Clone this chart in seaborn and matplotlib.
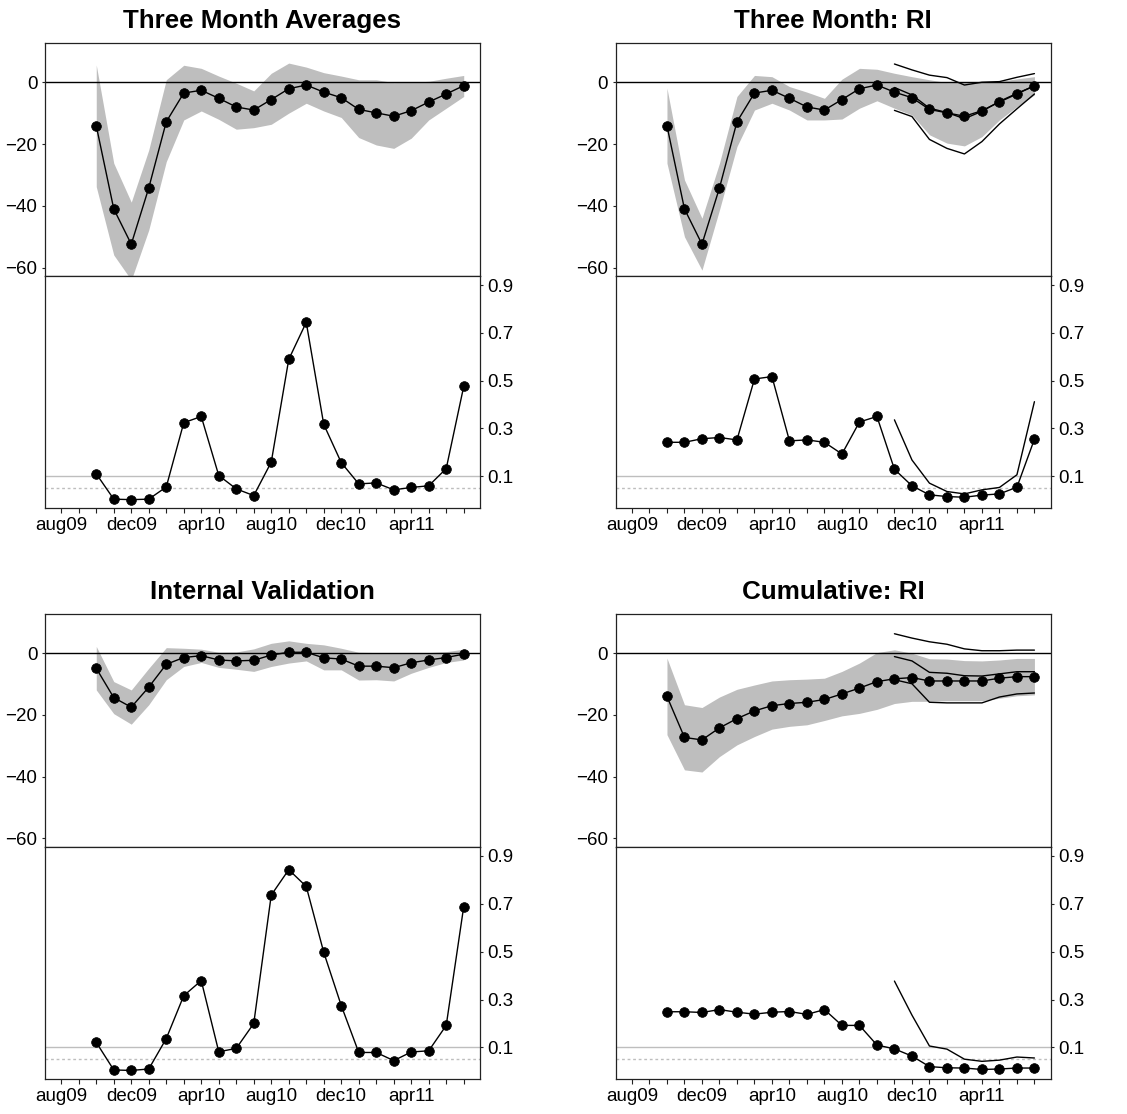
import matplotlib
matplotlib.use("Agg")
import matplotlib.pyplot as plt
import seaborn as sns
import pandas as pd

# months on the x axis, aug09 .. jul11
months = ['aug09', 'sep09', 'oct09', 'nov09', 'dec09', 'jan10', 'feb10', 'mar10',
          'apr10', 'may10', 'jun10', 'jul10', 'aug10', 'sep10', 'oct10', 'nov10',
          'dec10', 'jan11', 'feb11', 'mar11', 'apr11', 'may11', 'jun11', 'jul11']
tick_labels = ['aug09', 'dec09', 'apr10', 'aug10', 'dec10', 'apr11']
est_months = months[2:]     # oct09 .. jul11
ri_months = months[15:]     # nov10 .. jul11

# Three Month Averages
est1 = [-14.1, -41.0, -52.4, -34.2, -12.8, -3.5, -2.6, -5.2, -8.0, -9.0, -5.6, -2.1,
        -0.9, -3.2, -5.0, -8.8, -9.9, -11.0, -9.2, -6.4, -3.8, -1.1]
hi1 = [5.6, -26.2, -38.8, -21.9, 0.8, 5.5, 4.5, 2.0, -0.3, -2.8, 2.9, 6.2,
       4.9, 3.1, 2.0, 0.8, 0.8, -0.1, 0.0, 0.3, 1.3, 2.2]
lo1 = [-33.8, -55.9, -64.0, -47.8, -25.7, -12.2, -9.3, -12.0, -15.2, -14.7, -13.6, -10.0,
       -6.8, -9.3, -11.4, -17.9, -20.3, -21.4, -18.1, -12.2, -8.4, -4.6]
p1 = [0.11, 0.004, 0.002, 0.004, 0.055, 0.324, 0.35, 0.103, 0.047, 0.019, 0.159, 0.589,
      0.744, 0.317, 0.157, 0.068, 0.072, 0.043, 0.053, 0.06, 0.132, 0.476]

# Three Month: RI
est2 = [-14.1, -41.0, -52.4, -34.2, -12.8, -3.5, -2.6, -5.2, -8.0, -9.0, -5.6, -2.1,
        -0.9, -3.2, -5.0, -8.8, -9.9, -11.0, -9.2, -6.4, -3.8, -1.1]
hi2 = [-1.9, -31.6, -44.0, -26.2, -4.6, 2.2, 1.8, -1.4, -3.2, -5.2, 1.0, 4.5,
       4.2, 2.9, 1.8, 0.8, -0.1, -0.1, 0.2, 0.3, 1.1, 1.8]
lo2 = [-26.2, -50.0, -60.8, -41.3, -20.8, -9.0, -6.8, -9.0, -12.2, -12.2, -11.9, -8.4,
       -6.0, -8.4, -10.6, -17.0, -19.7, -20.6, -17.6, -12.2, -7.9, -4.1]
p2 = [0.242, 0.242, 0.257, 0.262, 0.252, 0.507, 0.517, 0.248, 0.252, 0.242, 0.193, 0.327,
      0.35, 0.129, 0.06, 0.022, 0.015, 0.012, 0.021, 0.026, 0.054, 0.255]
ri_hi2 = [5.9, 4.0, 2.3, 1.5, -0.9, 0.0, 0.2, 1.6, 2.8]
ri_mid2 = [-1.7, -4.1, -8.4, -9.8, -11.8, -9.4, -6.2, -3.6, -1.2]
ri_lo2 = [-9.1, -11.1, -18.5, -21.4, -23.2, -19.2, -13.5, -8.6, -3.8]
ri_p2 = [0.336, 0.168, 0.071, 0.036, 0.026, 0.043, 0.053, 0.106, 0.412]

# Internal Validation
est3 = [-4.9, -14.4, -17.5, -11.0, -3.6, -1.4, -0.8, -2.2, -2.5, -2.3, -0.6, 0.3,
        0.3, -1.5, -1.9, -4.2, -4.2, -4.7, -3.1, -2.2, -1.4, -0.3]
hi3 = [2.2, -9.2, -11.9, -4.9, 1.8, 1.6, 1.3, 0.3, 0.4, 1.4, 3.2, 4.0,
       3.2, 2.7, 1.6, 0.3, 0.2, 0.0, 0.1, 0.2, 0.5, 1.3]
lo3 = [-11.9, -19.6, -23.0, -16.7, -8.6, -4.3, -3.0, -4.6, -5.2, -5.9, -4.3, -3.2,
       -2.5, -5.4, -5.4, -8.7, -8.6, -9.0, -6.5, -4.6, -3.0, -2.2]
p3 = [0.121, 0.006, 0.004, 0.01, 0.137, 0.316, 0.379, 0.082, 0.096, 0.2, 0.736, 0.842,
      0.772, 0.497, 0.275, 0.079, 0.079, 0.045, 0.081, 0.086, 0.192, 0.688]

# Cumulative: RI
est4 = [-14.0, -27.3, -28.1, -24.2, -21.2, -18.7, -17.0, -16.3, -15.9, -15.0, -13.2, -11.3,
        -9.2, -8.3, -7.9, -9.0, -9.0, -9.0, -9.0, -8.1, -7.6, -7.6]
hi4 = [-1.6, -16.7, -17.6, -14.2, -11.7, -10.3, -9.0, -8.6, -8.4, -8.1, -5.9, -3.2,
       0.2, 1.1, 0.0, -1.8, -1.9, -2.4, -2.5, -2.2, -1.7, -1.7]
lo4 = [-26.4, -37.8, -38.5, -33.5, -29.7, -27.0, -24.6, -23.7, -23.2, -21.8, -20.3, -19.5,
       -18.2, -16.3, -15.6, -15.6, -15.4, -15.4, -15.4, -14.6, -13.8, -13.5]
p4 = [0.249, 0.249, 0.246, 0.258, 0.247, 0.239, 0.247, 0.25, 0.238, 0.258, 0.192, 0.192,
      0.11, 0.094, 0.064, 0.02, 0.015, 0.014, 0.008, 0.01, 0.014, 0.014]
ri_hi4 = [6.3, 4.9, 3.7, 2.9, 1.4, 0.8, 0.8, 1.0, 1.0]
ri_mid4 = [-1.1, -2.5, -6.2, -6.5, -7.3, -7.4, -6.7, -6.0, -6.0]
ri_lo4 = [-8.6, -9.9, -15.9, -16.1, -16.1, -16.1, -14.2, -13.2, -12.9]
ri_p4 = [0.377, 0.235, 0.106, 0.093, 0.051, 0.042, 0.047, 0.06, 0.056]

sns.set_theme(style="ticks")
plt.rcParams['font.family'] = ['Liberation Sans', 'DejaVu Sans']
plt.rcParams['axes.edgecolor'] = '#222222'
plt.rcParams['axes.linewidth'] = 0.9
plt.rcParams['text.color'] = 'black'
plt.rcParams['axes.titlecolor'] = 'black'
plt.rcParams['xtick.labelcolor'] = 'black'
plt.rcParams['ytick.labelcolor'] = 'black'

W, H = 1127, 1114
fig = plt.figure(figsize=(W / 100, H / 100), dpi=100)

mpos = {m: i for i, m in enumerate(months)}
BAND = '#bebebe'
FS = 13.5


def px_axes(x0, y0, x1, y1):
    return fig.add_axes([x0 / W, 1 - y1 / H, (x1 - x0) / W, (y1 - y0) / H])


def draw_panel(x0, x1, y_top, y_mid, y_bot, title, est, lo, hi, pval,
               ri_hi=None, ri_mid=None, ri_lo=None, ri_p=None):
    ax = px_axes(x0, y_top, x1, y_mid)
    axp = px_axes(x0, y_mid, x1, y_bot)

    df = pd.DataFrame({'x': [mpos[m] for m in est_months], 'est': est,
                       'lo': lo, 'hi': hi, 'p': pval})
    ax.fill_between(df['x'], df['lo'], df['hi'], color=BAND, lw=0, zorder=1)
    ax.axhline(0, color='black', lw=1.0, zorder=2)
    sns.lineplot(data=df, x='x', y='est', ax=ax, color='black', lw=1.0,
                 marker='o', markersize=7, markeredgecolor='black',
                 markeredgewidth=0.5, zorder=4)
    if ri_mid is not None:
        rdf = pd.DataFrame({'x': [mpos[m] for m in ri_months], 'hi': ri_hi,
                            'mid': ri_mid, 'lo': ri_lo, 'p': ri_p})
        for col in ['hi', 'mid', 'lo']:
            sns.lineplot(data=rdf, x='x', y=col, ax=ax, color='black', lw=1.0, zorder=3)

    ax.set_xlim(-0.93, 23.93)
    ax.set_ylim(-62.7, 12.7)
    ax.set_yticks([0, -20, -40, -60])
    ax.set_yticklabels(['0', '\u221220', '\u221240', '\u221260'])
    ax.set_xticks([])
    ax.set_xlabel('')
    ax.set_ylabel('')
    ax.tick_params(axis='y', length=2.5, width=0.8, labelsize=FS, pad=3, color='#222222')
    ax.set_title(title, fontsize=18.7, fontweight='bold', pad=11)

    axp.axhline(0.1, color=BAND, lw=1.0, zorder=1)
    axp.axhline(0.05, color=BAND, lw=1.0, ls=(0, (2, 2)), zorder=1)
    sns.lineplot(data=df, x='x', y='p', ax=axp, color='black', lw=1.0,
                 marker='o', markersize=7, markeredgecolor='black',
                 markeredgewidth=0.5, zorder=4)
    if ri_p is not None:
        sns.lineplot(data=rdf, x='x', y='p', ax=axp, color='black', lw=1.0, zorder=3)
    axp.set_xlim(-0.93, 23.93)
    axp.set_ylim(-0.033, 0.938)
    axp.yaxis.tick_right()
    axp.set_yticks([0.1, 0.3, 0.5, 0.7, 0.9])
    axp.set_yticklabels(['0.1', '0.3', '0.5', '0.7', '0.9'])
    axp.set_xticks(range(len(months)))
    axp.set_xticklabels([m if m in tick_labels else '' for m in months])
    axp.set_xlabel('')
    axp.set_ylabel('')
    axp.tick_params(axis='y', length=2.5, width=0.8, labelsize=FS, pad=3, color='#222222')
    axp.tick_params(axis='x', length=3.5, width=0.8, labelsize=FS, pad=3, color='#222222')


draw_panel(45, 480, 43, 276, 508, 'Three Month Averages', est1, lo1, hi1, p1)
draw_panel(615.7, 1050.7, 43, 276, 508, 'Three Month: RI', est2, lo2, hi2, p2,
           ri_hi2, ri_mid2, ri_lo2, ri_p2)
draw_panel(45, 480, 614, 846.7, 1079.3, 'Internal Validation', est3, lo3, hi3, p3)
draw_panel(615.7, 1050.7, 614, 846.7, 1079.3, 'Cumulative: RI', est4, lo4, hi4, p4,
           ri_hi4, ri_mid4, ri_lo4, ri_p4)

fig.savefig('out.png', dpi=100)
